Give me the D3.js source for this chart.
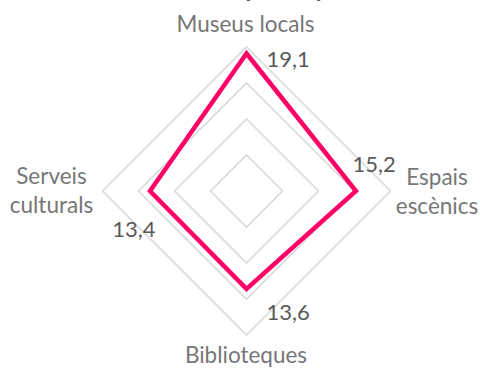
<!DOCTYPE html>
<html>
<head>
<meta charset="utf-8">
<script src="https://cdn.jsdelivr.net/npm/d3@7"></script>
<style>
  html, body { margin: 0; padding: 0; background: #fff; }
  svg { display: block; }
  text { font-family: Lato, "Open Sans", sans-serif; }
</style>
</head>
<body>
<svg id="chart" width="480" height="368"></svg>
<script>
// Categories clockwise from the top, and their values
const categories = ["Museus locals", "Espais escènics", "Biblioteques", "Serveis culturals"];
const values = [19.1, 15.2, 13.6, 13.4];
const valueLabels = ["19,1", "15,2", "13,6", "13,4"];
const gridTicks = [5, 10, 15, 20];
const title = "Usuaris per any";

const svg = d3.select("#chart");
const cx = 246.5, cy = 191;

const r = d3.scaleLinear().domain([0, 20]).range([0, 144]);
const angle = d3.scalePoint().domain(d3.range(categories.length + 1))
  .range([0, 2 * Math.PI]);
const ang = i => angle(i);

const g = svg.append("g").attr("transform", `translate(${cx},${cy})`);

// Title (sits mostly above the visible area)
svg.append("text")
  .attr("x", 242).attr("y", -3)
  .attr("text-anchor", "middle")
  .attr("font-size", 25).attr("font-weight", "bold")
  .attr("fill", "#595959")
  .text(title);

// Diamond gridlines
const ringLine = d3.lineRadial().angle((d, i) => ang(i)).radius(d => r(d)).curve(d3.curveLinearClosed);
g.selectAll("path.grid")
  .data(gridTicks)
  .join("path")
  .attr("class", "grid")
  .attr("d", t => ringLine(categories.map(() => t)))
  .attr("fill", "none")
  .attr("stroke", "#d9d9d9")
  .attr("stroke-width", 1.6);

// Data series
g.append("path")
  .attr("d", ringLine(values))
  .attr("fill", "none")
  .attr("stroke", "#ff0066")
  .attr("stroke-width", 4.5)
  .attr("stroke-linejoin", "miter");

// Value labels
const valPos = [
  { dx: 20, dy: -124, anchor: "start" },
  { dx: 106, dy: -19, anchor: "start" },
  { dx: 20, dy: 129, anchor: "start" },
  { dx: -91, dy: 46, anchor: "end" }
];
g.selectAll("text.val")
  .data(values)
  .join("text")
  .attr("class", "val")
  .attr("x", (d, i) => valPos[i].dx)
  .attr("y", (d, i) => valPos[i].dy)
  .attr("text-anchor", (d, i) => valPos[i].anchor)
  .attr("font-size", 22)
  .attr("fill", "#595959")
  .text((d, i) => valueLabels[i]);

// Category labels
const catPos = [
  { x: 245.5, y: 32, lines: ["Museus locals"] },
  { x: 437, y: 185, lines: ["Espais", "escènics"] },
  { x: 246, y: 363, lines: ["Biblioteques"] },
  { x: 51.5, y: 184, lines: ["Serveis", "culturals"] }
];
svg.selectAll("text.cat")
  .data(catPos)
  .join("text")
  .attr("class", "cat")
  .attr("text-anchor", "middle")
  .attr("font-size", 22.5)
  .attr("fill", "#767676")
  .each(function (d) {
    d3.select(this).selectAll("tspan")
      .data(d.lines)
      .join("tspan")
      .attr("x", d.x)
      .attr("y", (l, i) => d.y + i * 29)
      .text(l => l);
  });
</script>
</body>
</html>
